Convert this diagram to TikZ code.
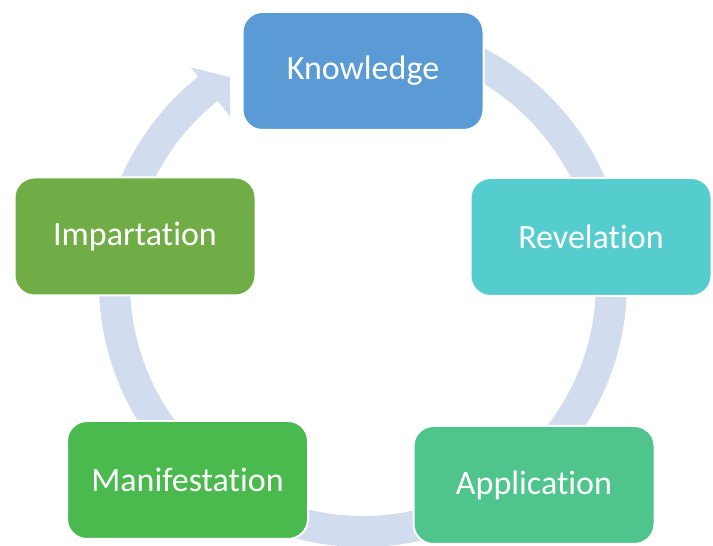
\documentclass[tikz,border=0pt]{standalone}
\usepackage{fontspec}
\setmainfont{Carlito}[Ligatures=NoCommon]
\definecolor{ringblue}{HTML}{D1DCEE}
\definecolor{knowc}{HTML}{5B9BD5}
\definecolor{revc}{HTML}{55CCCD}
\definecolor{appc}{HTML}{4FC48C}
\definecolor{manc}{HTML}{4ABA4E}
\definecolor{impc}{HTML}{70AD47}

\begin{document}
\begin{tikzpicture}[x=1pt,y=1pt,
  stage/.style={draw=white,line width=2pt,rounded corners=20pt,minimum width=241pt,minimum height=118pt,text=white,font=\fontsize{34}{40}\selectfont}]
\useasboundingbox (0,0) rectangle (713,546);
\clip (0,0) rectangle (713,546);

%ring arrow
\begin{scope}[shift={(363,263)}]
\fill[ringblue] (90:264) arc[start angle=90,end angle=-231.4,radius=264] -- (-231.4:276) -- (-237.1:245) -- (-231.4:213) -- (-231.4:233) arc[start angle=-231.4,end angle=90,radius=233] -- cycle;
\end{scope}

%stages
\node[stage,fill=knowc] (know) at (363,475) {Knowledge};
\node[stage,fill=revc] (rev) at (591,309) {Revelation};
\node[stage,fill=appc] (app) at (534,61) {Application};
\node[stage,fill=manc] (man) at (187.5,66) {Manifestation};
\node[stage,fill=impc] (imp) at (135,309.5) {Impartation};
\end{tikzpicture}
\end{document}
